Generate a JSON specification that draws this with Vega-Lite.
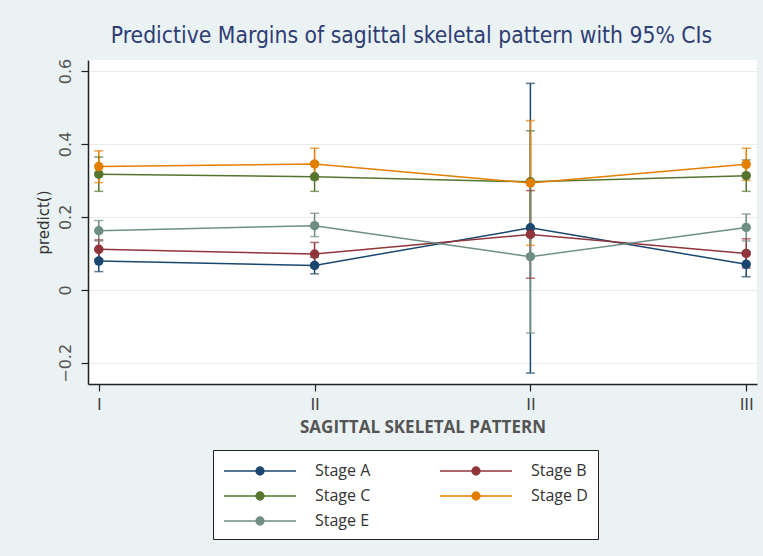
{
  "$schema": "https://vega.github.io/schema/vega-lite/v6.json",
  "width": 669,
  "height": 324,
  "autosize": {"type": "none"},
  "padding": {"left": 88, "top": 60, "right": 6, "bottom": 172},
  "background": "#eaf2f3",
  "title": {
    "text": "Predictive Margins of sagittal skeletal pattern with 95% CIs",
    "font": "DejaVu Sans Condensed",
    "fontSize": 22.7,
    "fontWeight": "normal",
    "color": "#2f3d75",
    "anchor": "middle",
    "dx": -11,
    "offset": 11
  },
  "config": {
    "view": {"fill": "white", "stroke": null}
  },
  "data": {
    "values": [
      {"x": 1, "stage": "Stage A", "m": 0.079, "lo": 0.05, "hi": 0.108},
      {"x": 2, "stage": "Stage A", "m": 0.067, "lo": 0.044, "hi": 0.09},
      {"x": 3, "stage": "Stage A", "m": 0.17, "lo": -0.228, "hi": 0.566},
      {"x": 4, "stage": "Stage A", "m": 0.07, "lo": 0.036, "hi": 0.104},
      {"x": 1, "stage": "Stage B", "m": 0.111, "lo": 0.085, "hi": 0.137},
      {"x": 2, "stage": "Stage B", "m": 0.098, "lo": 0.066, "hi": 0.13},
      {"x": 3, "stage": "Stage B", "m": 0.152, "lo": 0.032, "hi": 0.272},
      {"x": 4, "stage": "Stage B", "m": 0.1, "lo": 0.06, "hi": 0.14},
      {"x": 1, "stage": "Stage C", "m": 0.317, "lo": 0.27, "hi": 0.364},
      {"x": 2, "stage": "Stage C", "m": 0.31, "lo": 0.27, "hi": 0.35},
      {"x": 3, "stage": "Stage C", "m": 0.296, "lo": 0.156, "hi": 0.436},
      {"x": 4, "stage": "Stage C", "m": 0.313, "lo": 0.27, "hi": 0.356},
      {"x": 1, "stage": "Stage D", "m": 0.338, "lo": 0.294, "hi": 0.381},
      {"x": 2, "stage": "Stage D", "m": 0.345, "lo": 0.302, "hi": 0.388},
      {"x": 3, "stage": "Stage D", "m": 0.293, "lo": 0.122, "hi": 0.464},
      {"x": 4, "stage": "Stage D", "m": 0.344, "lo": 0.3, "hi": 0.388},
      {"x": 1, "stage": "Stage E", "m": 0.162, "lo": 0.134, "hi": 0.19},
      {"x": 2, "stage": "Stage E", "m": 0.176, "lo": 0.146, "hi": 0.21},
      {"x": 3, "stage": "Stage E", "m": 0.091, "lo": -0.118, "hi": 0.3},
      {"x": 4, "stage": "Stage E", "m": 0.171, "lo": 0.134, "hi": 0.208}
    ]
  },
  "encoding": {
    "x": {
      "field": "x",
      "type": "quantitative",
      "scale": {"domain": [0.95, 4.05], "nice": false, "zero": false},
      "axis": {
        "values": [1, 2, 3, 4],
        "labelExpr": "datum.value == 1 ? 'I' : datum.value == 4 ? 'III' : 'II'",
        "title": "SAGITTAL SKELETAL PATTERN",
        "titleFont": "Open Sans",
        "titleFontSize": 17,
        "titleFontWeight": "bold",
        "titleColor": "#555555",
        "titlePadding": 7,
        "labelFont": "DejaVu Sans",
        "labelFontSize": 16,
        "labelColor": "#444444",
        "labelPadding": 5,
        "grid": false,
        "domainColor": "#222222",
        "domainWidth": 1.5,
        "tickColor": "#222222",
        "tickSize": 7,
        "tickWidth": 1.2
      }
    },
    "color": {
      "field": "stage",
      "type": "nominal",
      "scale": {
        "domain": ["Stage A", "Stage B", "Stage C", "Stage D", "Stage E"],
        "range": ["#1a476f", "#90353b", "#55752f", "#e37e00", "#6e8e84"]
      },
      "legend": {
        "title": null,
        "orient": "none",
        "legendX": 125,
        "legendY": 390,
        "direction": "horizontal",
        "columns": 2,
        "columnPadding": 66,
        "rowPadding": 6,
        "padding": 10,
        "strokeColor": "#222222",
        "fillColor": "white",
        "symbolType": "M-3.6,0L3.6,0M-0.4,0a0.4,0.4 0 1,0 0.8,0a0.4,0.4 0 1,0 -0.8,0",
        "symbolSize": 400,
        "symbolOffset": 26,
        "symbolStrokeWidth": 1.3,
        "labelOffset": 44,
        "labelFont": "Open Sans",
        "labelFontSize": 16,
        "labelColor": "#333333",
        "encode": {
          "symbols": {"update": {"fill": {"scale": "color", "field": "value"}, "fillOpacity": {"value": 1}}}
        }
      }
    }
  },
  "layer": [
    {
      "mark": {"type": "line", "strokeWidth": 1.5},
      "encoding": {
        "y": {
          "field": "m",
          "type": "quantitative",
          "scale": {"domain": [-0.258, 0.63], "nice": false, "zero": false},
          "axis": {
            "values": [-0.2, 0, 0.2, 0.4, 0.6],
            "labelExpr": "datum.value == 0 ? '0' : format(datum.value, '.1f')",
            "title": "predict()",
            "titleFont": "DejaVu Sans",
            "titleFontSize": 15,
            "titleFontWeight": "normal",
            "titleColor": "#333333",
            "titlePadding": 6,
            "labelAngle": 270,
            "labelAlign": "center",
            "labelBaseline": "bottom",
            "labelFont": "DejaVu Sans",
            "labelFontSize": 16,
            "labelColor": "#555555",
            "labelPadding": 8,
            "grid": true,
            "gridColor": "#eaeaea",
            "gridWidth": 1,
            "domainColor": "#222222",
            "domainWidth": 1.5,
            "tickColor": "#222222",
            "tickSize": 7,
            "tickWidth": 1.2
          }
        }
      }
    },
    {
      "mark": {"type": "rule", "strokeWidth": 1.5},
      "encoding": {"y": {"field": "lo", "type": "quantitative"}, "y2": {"field": "hi"}}
    },
    {
      "mark": {"type": "tick", "orient": "horizontal", "size": 9, "thickness": 1.5},
      "encoding": {"y": {"field": "lo", "type": "quantitative"}}
    },
    {
      "mark": {"type": "tick", "orient": "horizontal", "size": 9, "thickness": 1.5},
      "encoding": {"y": {"field": "hi", "type": "quantitative"}}
    },
    {
      "mark": {"type": "point", "filled": true, "size": 90, "opacity": 1},
      "encoding": {"y": {"field": "m", "type": "quantitative"}}
    }
  ]
}
